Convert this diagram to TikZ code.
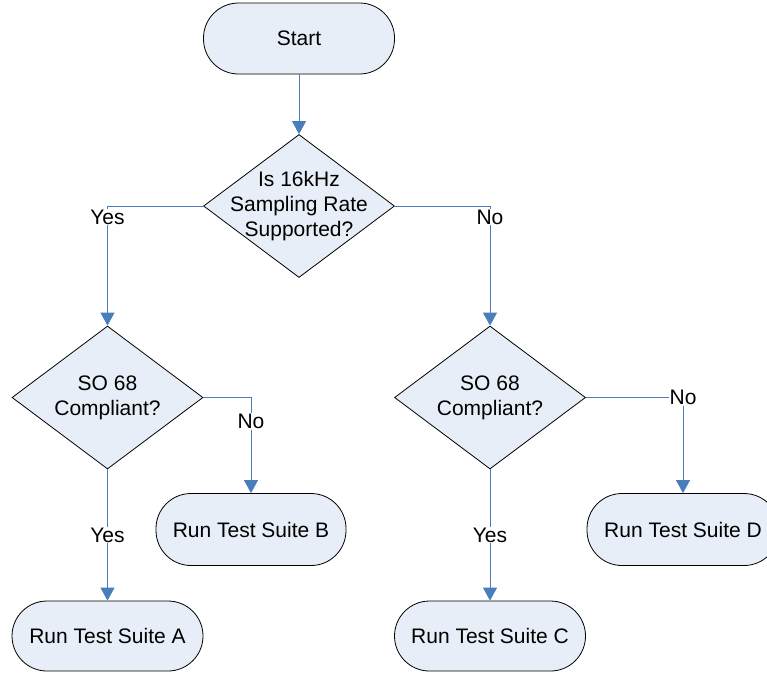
\documentclass[tikz,border=0pt]{standalone}
\usepackage{fontspec}
\setmainfont{Liberation Sans}
\usetikzlibrary{shapes.geometric,arrows.meta}
\definecolor{boxfill}{RGB}{232,238,247}
\definecolor{flowblue}{RGB}{74,126,187}
\begin{document}
\begin{tikzpicture}[x=1pt,y=-1pt,
  every node/.style={font=\fontsize{21}{25}\selectfont},
  terminal/.style={draw=black,line width=0.8pt,fill=boxfill,rectangle,
    rounded corners=35pt,minimum width=191pt,minimum height=71pt,inner sep=0pt},
  decision/.style={draw=black,line width=0.8pt,fill=boxfill,diamond,
    minimum width=191pt,minimum height=143pt,inner sep=0pt},
  flow/.style={draw=flowblue,line width=0.9pt,
    -{Triangle[width=14pt,length=13pt]}},
  tag/.style={fill=white,inner sep=1pt,text=black}]
\useasboundingbox (0,0) rectangle (767,673);

% process boxes
\node[terminal] (start) at (299,38.5) {Start};
\node[decision,label={[align=center]center:Is 16kHz\\Sampling Rate\\Supported?}] (q1) at (299,206) {};
\node[decision,label={[align=center]center:SO 68\\Compliant?}] (q2) at (107.5,397.5) {};
\node[decision,label={[align=center]center:SO 68\\Compliant?}] (q3) at (490,397.5) {};
\node[terminal,minimum width=190pt,minimum height=72pt] (suiteB) at (251,529.5) {Run Test Suite B};
\node[terminal,minimum width=192pt,minimum height=72pt] (suiteD) at (683,529.5) {Run Test Suite D};
\node[terminal,minimum height=70pt] (suiteA) at (107.5,636) {Run Test Suite A};
\node[terminal,minimum height=70pt] (suiteC) at (490,636) {Run Test Suite C};

% connectors
\draw[flow] (start) -- (q1);
\draw[flow] (q1.west) -| node[tag,pos=0.546] {Yes} (q2.north);
\draw[flow] (q1.east) -| node[tag,pos=0.546] {No} (q3.north);
\draw[flow] (q2.east) -| node[tag,pos=0.625] {No} (suiteB.north);
\draw[flow] (q2.south) -- node[tag,pos=0.5] {Yes} (suiteA.north);
\draw[flow] (q3.south) -- node[tag,pos=0.5] {Yes} (suiteC.north);
\draw[flow] (q3.east) -| node[tag,pos=0.5] {No} (suiteD.north);
\end{tikzpicture}
\end{document}
